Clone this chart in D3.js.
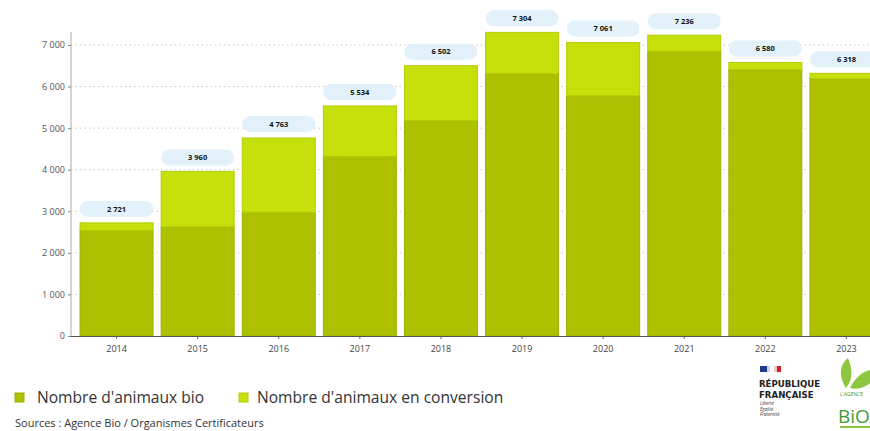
<!DOCTYPE html>
<html><head><meta charset="utf-8">
<script src="https://cdn.jsdelivr.net/npm/d3@7"></script>
<style>html,body{margin:0;padding:0;background:#fff;overflow:hidden}svg{display:block}</style>
</head><body>
<svg id="chart" width="870" height="431"></svg>
<script>
const years = ["2014","2015","2016","2017","2018","2019","2020","2021","2022","2023"];
const bio = [2540, 2625, 2975, 4320, 5180, 6310, 5780, 6845, 6405, 6185];
const totals = [2721, 3960, 4763, 5534, 6502, 7304, 7061, 7236, 6580, 6318];
const conversion = totals.map((t,i) => t - bio[i]);
const yTicks = [0,1000,2000,3000,4000,5000,6000,7000];
const seriesNames = ["Nombre d'animaux bio", "Nombre d'animaux en conversion"];
const colors = ["#adc100", "#c6e00b"];
const strokes = ["#9cb000", "#b4cc08"];
const source = "Sources : Agence Bio / Organismes Certificateurs";

const svg = d3.select("#chart");
const font = "'Open Sans', sans-serif";
const fmt = v => d3.format(",")(v).replace(/,/g, " ");

const x = d3.scaleBand().domain(years).range([76, 887]).paddingInner(0.1).paddingOuter(0.05);
const y = d3.scaleLinear().domain([0, 7000]).range([336, 45]);

// gridlines
svg.append("g").selectAll("line").data(yTicks.filter(d => d > 0)).join("line")
  .attr("x1", 71).attr("x2", 870).attr("y1", d => y(d)).attr("y2", d => y(d))
  .attr("stroke", "#c8c8c8").attr("stroke-dasharray", "1.5,3").attr("stroke-width", 1);

// bars
const stack = years.map((yr,i) => ({year: yr, bio: bio[i], conv: conversion[i], total: totals[i]}));
const g = svg.append("g");
g.selectAll("rect.bio").data(stack).join("rect").attr("class","bio")
  .attr("x", d => x(d.year)).attr("width", x.bandwidth())
  .attr("y", d => y(d.bio)).attr("height", d => y(0) - y(d.bio))
  .attr("fill", colors[0]).attr("stroke", strokes[0]).attr("stroke-width", 1);
g.selectAll("rect.conv").data(stack).join("rect").attr("class","conv")
  .attr("x", d => x(d.year)).attr("width", x.bandwidth())
  .attr("y", d => y(d.total)).attr("height", d => y(d.bio) - y(d.total))
  .attr("fill", colors[1]).attr("stroke", strokes[1]).attr("stroke-width", 1);

// labels (pills)
const lab = svg.append("g");
lab.selectAll("rect").data(stack).join("rect")
  .attr("x", d => x(d.year)).attr("width", x.bandwidth())
  .attr("y", d => y(d.total) - 22).attr("height", 16).attr("rx", 8)
  .attr("fill", "#e2f1fa");
lab.selectAll("text").data(stack).join("text")
  .attr("x", d => x(d.year) + x.bandwidth()/2).attr("y", d => y(d.total) - 11.3)
  .attr("text-anchor", "middle").attr("font-family", font).attr("font-weight", "bold")
  .attr("font-size", 7.5).attr("fill", "#111").text(d => fmt(d.total));

// y axis
const yAxis = svg.append("g").attr("transform", "translate(71,0)")
  .call(d3.axisLeft(y).tickValues(yTicks).tickFormat(fmt).tickSize(3).tickPadding(3));
yAxis.select(".domain").remove();
yAxis.selectAll(".tick line").attr("stroke", "#888");
yAxis.selectAll("text").attr("font-family", font).attr("font-size", 9).attr("fill", "#555");
svg.append("line").attr("x1", 71).attr("x2", 71).attr("y1", 32).attr("y2", 336)
  .attr("stroke", "#aaa").attr("stroke-width", 1);

// x axis
const xAxis = svg.append("g").attr("transform", "translate(0,336)")
  .call(d3.axisBottom(x).tickSize(3).tickPadding(7));
xAxis.select(".domain").remove();
xAxis.selectAll(".tick line").attr("stroke", "#666");
xAxis.selectAll("text").attr("font-family", font).attr("font-size", 9).attr("fill", "#444");
svg.append("line").attr("x1", 71).attr("x2", 870).attr("y1", 336.5).attr("y2", 336.5)
  .attr("stroke", "#555").attr("stroke-width", 1);

// legend
const legX = [15, 239];
const legTextX = [37, 257];
const leg = svg.append("g");
seriesNames.forEach((n,i) => {
  leg.append("rect").attr("x", legX[i]).attr("y", 393).attr("width", 9).attr("height", 9)
    .attr("fill", colors[i]).attr("stroke", strokes[i]);
  leg.append("text").attr("x", legTextX[i]).attr("y", 403).attr("font-family", font)
    .attr("font-size", 15.6).attr("fill", "#333").text(n);
});
svg.append("text").attr("x", 15).attr("y", 427).attr("font-family", font)
  .attr("font-size", 11).attr("fill", "#333").text(source);

// République Française logo
const rf = svg.append("g");
rf.append("rect").attr("x", 760).attr("y", 366).attr("width", 7).attr("height", 6).attr("fill", "#1f3a93");
rf.append("rect").attr("x", 767).attr("y", 366).attr("width", 3).attr("height", 6).attr("fill", "#cfd6ea");
rf.append("rect").attr("x", 774).attr("y", 366).attr("width", 3).attr("height", 6).attr("fill", "#f2c6c6");
rf.append("rect").attr("x", 777).attr("y", 366).attr("width", 4).attr("height", 6).attr("fill", "#d1202a");
rf.append("text").attr("x", 759).attr("y", 387).attr("font-family", "'DejaVu Sans', sans-serif")
  .attr("font-weight", "bold").attr("font-size", 8.6).attr("fill", "#222").text("RÉPUBLIQUE");
rf.append("text").attr("x", 759).attr("y", 398).attr("font-family", "'DejaVu Sans', sans-serif")
  .attr("font-weight", "bold").attr("font-size", 8.6).attr("fill", "#222").text("FRANÇAISE");
["Liberté","Égalité","Fraternité"].forEach((t,i) => {
  rf.append("text").attr("x", 760).attr("y", 405 + i*5.5).attr("font-family", font)
    .attr("font-style", "italic").attr("font-size", 4.5).attr("fill", "#333").text(t);
});

// Agence Bio logo
const ab = svg.append("g");
ab.append("path").attr("d", "M846,388 C838,376 840,364 848,358 C852,368 854,378 846,388 Z").attr("fill", "#8dc63f");
ab.append("path").attr("d", "M850,388 C856,376 864,370 872,370 L872,382 C864,388 856,390 850,388 Z").attr("fill", "#8dc63f");
ab.append("text").attr("x", 840).attr("y", 396).attr("font-family", font).attr("font-size", 5)
  .attr("fill", "#4a9a2a").text("L'AGENCE");
ab.append("text").attr("x", 838).attr("y", 423).attr("font-family", font).attr("font-size", 19)
  .attr("fill", "#3f9a35").text("BiO");
ab.append("rect").attr("x", 840).attr("y", 426).attr("width", 30).attr("height", 2).attr("fill", "#8dc63f");
</script>
</body></html>
